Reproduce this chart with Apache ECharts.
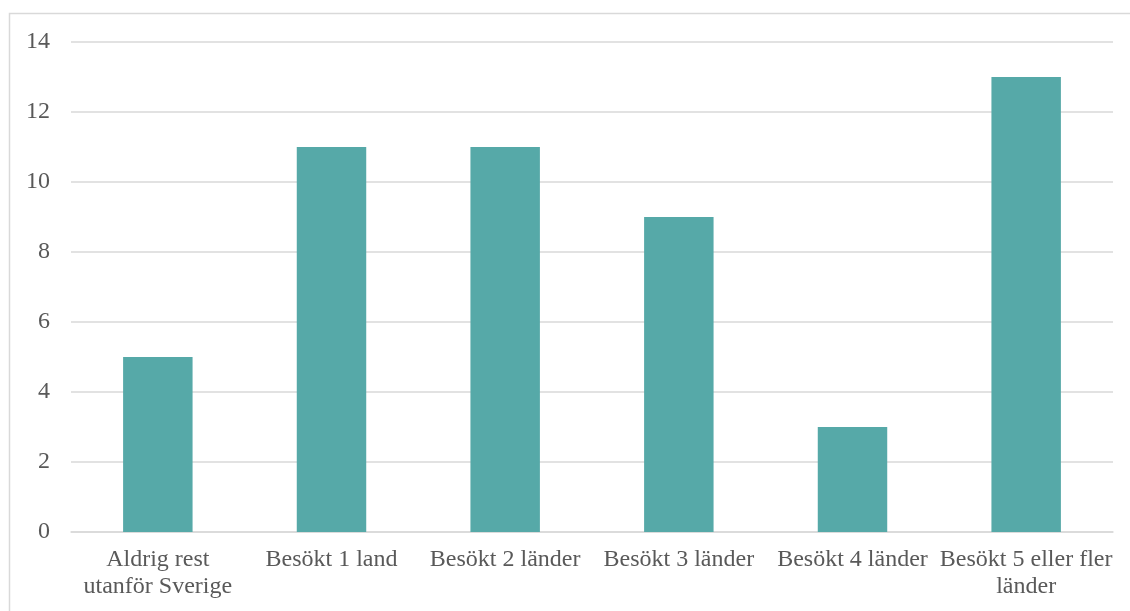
<!DOCTYPE html>
<html>
<head>
<meta charset="utf-8">
<script src="https://cdn.jsdelivr.net/npm/echarts@6/dist/echarts.min.js"></script>
<style>
html,body{margin:0;padding:0;background:#fff;}
#chart{width:1130px;height:611px;}
</style>
</head>
<body>
<div id="chart"></div>
<script>
const categories = ["Aldrig rest\nutanför Sverige", "Besökt 1 land", "Besökt 2 länder", "Besökt 3 länder", "Besökt 4 länder", "Besökt 5 eller fler\nländer"];
const values = [5, 11, 11, 9, 3, 13];
const yTicks = {min: 0, max: 14, interval: 2};

const chart = echarts.init(document.getElementById('chart'), null, {renderer: 'canvas'});
const font = '"Liberation Serif", "Times New Roman", serif';
chart.setOption({
  animation: false,
  graphic: [{
    type: 'rect',
    shape: {x: 9.5, y: 13.5, width: 1200, height: 700},
    style: {fill: 'none', stroke: '#d9d9d9', lineWidth: 1.5},
    silent: true
  }],
  grid: {left: 71, right: 17, top: 42, bottom: 79, containLabel: false},
  xAxis: {
    type: 'category',
    data: categories,
    axisLine: {show: true, lineStyle: {color: '#d9d9d9', width: 1.5}},
    axisTick: {show: false},
    axisLabel: {
      interval: 0,
      color: '#595959',
      fontFamily: font,
      fontSize: 24,
      lineHeight: 27,
      margin: 14
    }
  },
  yAxis: {
    type: 'value',
    min: yTicks.min,
    max: yTicks.max,
    interval: yTicks.interval,
    axisLine: {show: false},
    axisTick: {show: false},
    splitLine: {lineStyle: {color: '#d9d9d9', width: 1.5}},
    axisLabel: {
      color: '#595959',
      fontFamily: font,
      fontSize: 24,
      margin: 21
    }
  },
  series: [{
    type: 'bar',
    data: values,
    barWidth: '40%',
    itemStyle: {color: '#56a9a8'}
  }]
});
</script>
</body>
</html>
